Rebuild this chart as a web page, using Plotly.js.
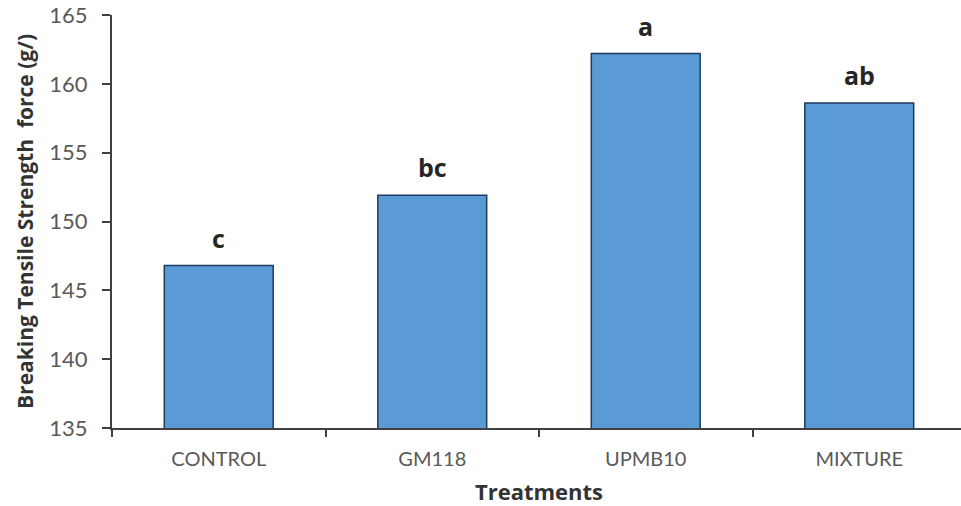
<!DOCTYPE html>
<html>
<head>
<meta charset="utf-8">
<script src="https://cdn.plot.ly/plotly-3.0.1.min.js"></script>
<style>
html,body{margin:0;padding:0;overflow:hidden;background:#fff;}
#chart{width:966px;height:506px;}
</style>
</head>
<body>
<div id="chart"></div>
<script>
const treatments = ["CONTROL", "GM118", "UPMB10", "MIXTURE"];
const strength = [146.8, 151.9, 162.2, 158.6];
const letters = ["c", "bc", "a", "ab"];
const yTicks = [135, 140, 145, 150, 155, 160, 165];

const trace = {
  type: "bar",
  x: treatments,
  y: strength,
  marker: {color: "#5B9BD5", line: {color: "#1F3A5F", width: 1.5}},
  hoverinfo: "x+y"
};

const annotations = treatments.map((t, i) => ({
  x: t, y: strength[i], xref: "x", yref: "y",
  text: "<b>" + letters[i] + "</b>",
  showarrow: false, yanchor: "middle", yshift: 28,
  font: {family: "'Open Sans', Lato, sans-serif", size: 25, color: "#262626"}
}));

const layout = {
  width: 966, height: 506,
  margin: {l: 112, r: 0, t: 15, b: 78},
  paper_bgcolor: "#fff", plot_bgcolor: "#fff",
  showlegend: false,
  bargap: 0.49,
  font: {family: "Lato, 'Open Sans', sans-serif", color: "#595959"},
  xaxis: {
    type: "category",
    showline: true, linecolor: "#404040", linewidth: 2,
    ticks: "outside", tickson: "boundaries", ticklen: 7, tickwidth: 2, tickcolor: "#404040",
    tickfont: {size: 20, color: "#595959"},
    ticklabelstandoff: 12,
    showgrid: false, zeroline: false,
    title: {text: "<b>Treatments</b>", font: {family: "'Open Sans', Lato, sans-serif", size: 22, color: "#333"}, standoff: 18}
  },
  yaxis: {
    range: [135, 165], tickvals: yTicks,
    showline: true, linecolor: "#404040", linewidth: 2,
    ticks: "outside", ticklen: 8, tickwidth: 2, tickcolor: "#404040",
    tickfont: {size: 22, color: "#595959"},
    ticklabelstandoff: 10,
    showgrid: false, zeroline: false,
    title: {text: "<b>Breaking Tensile Strength  force (g/)</b>", font: {family: "'Open Sans', Lato, sans-serif", size: 21, color: "#333"}, standoff: 10}
  },
  annotations: annotations
};

Plotly.newPlot("chart", [trace], layout, {displayModeBar: false, staticPlot: true});
</script>
</body>
</html>
